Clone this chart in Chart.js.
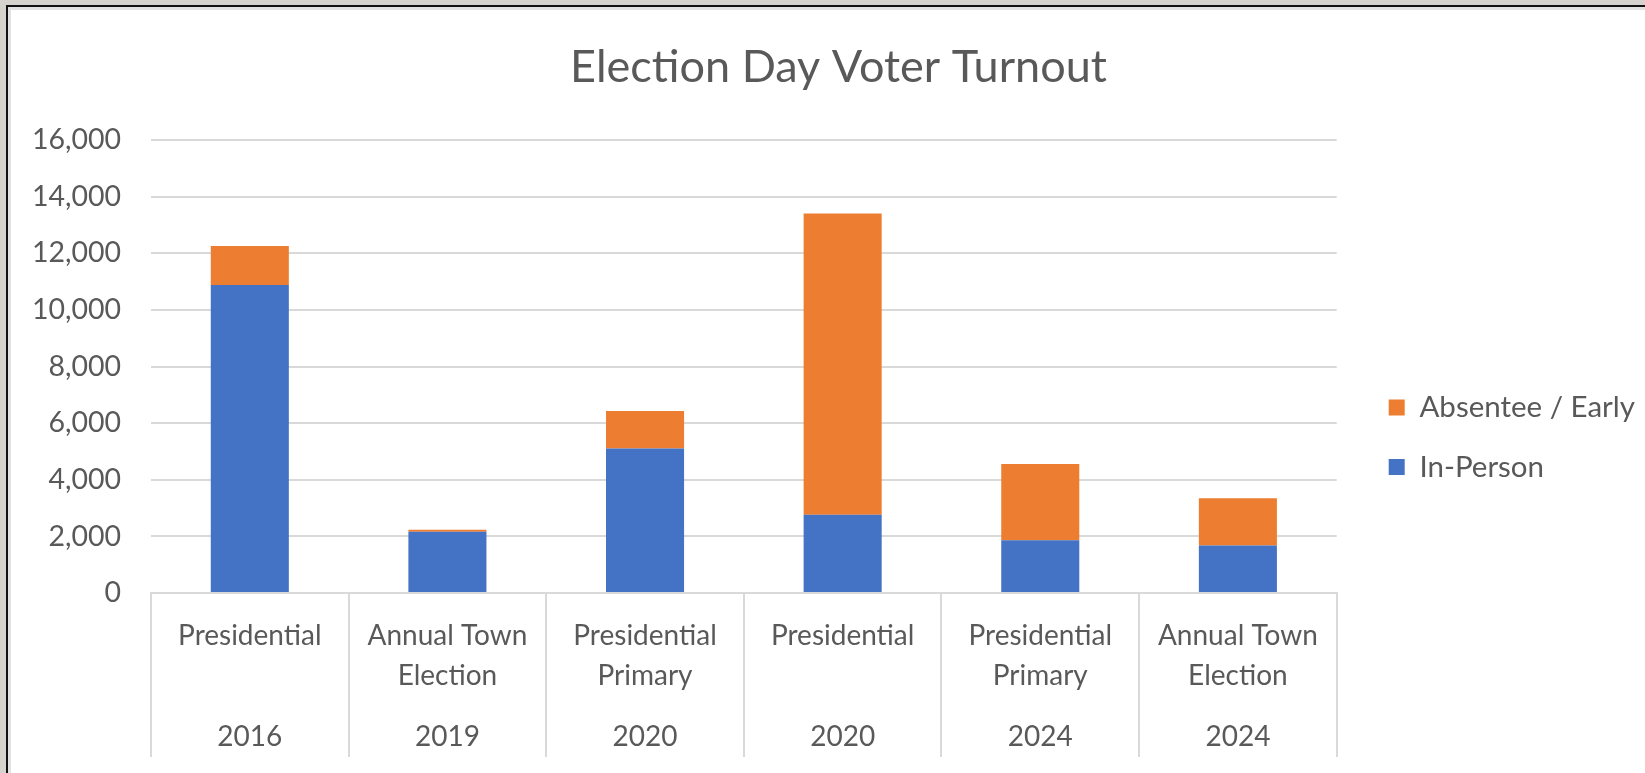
<!DOCTYPE html>
<html>
<head>
<meta charset="utf-8">
<script src="https://cdn.jsdelivr.net/npm/chart.js@4.4.1/dist/chart.umd.min.js"></script>
<style>
  html, body { margin: 0; padding: 0; width: 1645px; height: 773px; overflow: hidden; background: #d6d3ce; }
  #frame { position: absolute; left: 6px; top: 5px; width: 1660px; height: 790px;
           border-left: 2px solid #111; border-top: 2px solid #111; background: #fff;
           box-shadow: inset 3px 3px 0 #e2e2e2; }
  #c { position: absolute; left: 0; top: 0; }
</style>
</head>
<body>
<div id="frame"></div>
<canvas id="c" width="1645" height="773"></canvas>
<script>
// ---- data ----
const electionTypes = [
  ['Presidential'],
  ['Annual Town', 'Election'],
  ['Presidential', 'Primary'],
  ['Presidential'],
  ['Presidential', 'Primary'],
  ['Annual Town', 'Election']
];
const electionYears = ['2016', '2019', '2020', '2020', '2024', '2024'];
const inPerson = [10880, 2160, 5100, 2760, 1860, 1680];
const absenteeEarly = [1380, 70, 1330, 10640, 2700, 1670];
const seriesNames = ['In-Person', 'Absentee / Early'];
const chartTitle = 'Election Day Voter Turnout';

// ---- styles ----
const FONT = 'Lato';
const TXT = '#595959';
const GRID = '#d9d9d9';

new Chart(document.getElementById('c'), {
  type: 'bar',
  data: {
    labels: electionTypes,
    datasets: [
      { label: seriesNames[0], data: inPerson, backgroundColor: '#4472C4',
        categoryPercentage: 1, barPercentage: 0.395 },
      { label: seriesNames[1], data: absenteeEarly, backgroundColor: '#ED7D31',
        categoryPercentage: 1, barPercentage: 0.395 }
    ]
  },
  options: {
    responsive: false,
    animation: false,
    layout: { padding: { left: 32, right: 0, top: 0, bottom: 0 } },
    plugins: {
      tooltip: { enabled: false },
      title: {
        display: true, text: chartTitle, color: TXT,
        font: { family: FONT, size: 45, weight: 'normal', lineHeight: 1.2 },
        padding: { top: 40, bottom: 46 }
      },
      legend: {
        position: 'right', reverse: true, maxWidth: 400,
        title: { display: true, text: '', font: { size: 10, lineHeight: 1.2 }, padding: { top: 44.75, bottom: 44.75 } },
        labels: {
          boxWidth: 16, boxHeight: 16, padding: 30, color: TXT,
          font: { family: FONT, size: 29.5 }
        }
      }
    },
    scales: {
      x: {
        type: 'category', labels: electionTypes, stacked: true, offset: true,
        grid: { offset: true, drawOnChartArea: false, color: GRID, lineWidth: 2, tickLength: 164 },
        border: { display: true, color: GRID, width: 2 },
        ticks: { color: TXT, font: { family: FONT, size: 28, lineHeight: 40 / 28 },
                 padding: -141, autoSkip: false, maxRotation: 0, minRotation: 0 },
        afterFit: s => { s.height = 120; }
      },
      x2: {
        type: 'category', labels: electionYears, position: 'bottom', offset: true,
        grid: { display: false, drawTicks: false, drawOnChartArea: false },
        border: { display: false },
        ticks: { color: TXT, font: { family: FONT, size: 28, lineHeight: 40 / 28 },
                 padding: 4, autoSkip: false, maxRotation: 0, minRotation: 0 },
        afterFit: s => { s.height = 60; }
      },
      y: {
        stacked: true, min: 0, max: 16000,
        ticks: { stepSize: 2000, color: TXT, padding: 30,
                 font: { family: FONT, size: 28.5 },
                 callback: v => Number(v).toLocaleString('en-US') },
        grid: { color: GRID, lineWidth: 2, drawTicks: false },
        border: { display: false },
        afterFit: s => { s.width = 119; }
      },
      gap: {
        type: 'linear', position: 'right', display: true,
        grid: { display: false, drawTicks: false }, border: { display: false },
        ticks: { display: false },
        afterFit: s => { s.width = 22; }
      }
    }
  }
});
</script>
</body>
</html>
